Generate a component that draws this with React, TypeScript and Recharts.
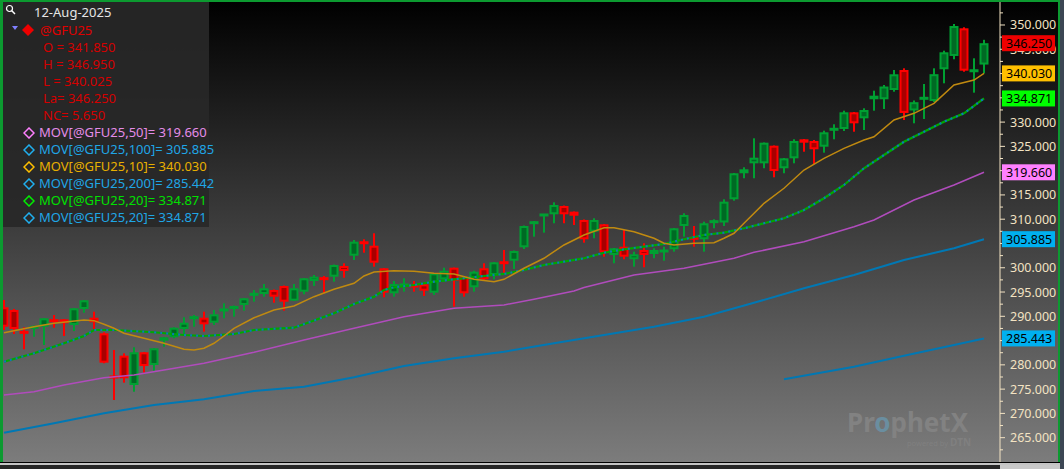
import React from 'react';
import { ComposedChart, Bar, Line, XAxis, YAxis, ReferenceDot } from 'recharts';

// ---- Data (daily bars of @GFU25, last bar 12-Aug-2025) ----
const opens = [291.86,291.30,286.75,287.70,287.86,289.13,289.38,288.21,291.51,289.71,286.50,277.55,281.89,275.85,282.59,279.97,284.98,285.68,287.39,289.68,289.71,288.68,291.27,291.51,292.33,294.50,294.59,295.42,296.24,293.22,295.07,297.27,297.78,298.16,300.36,302.48,305.20,304.54,299.89,294.74,296.42,296.27,296.59,294.86,297.62,300.01,298.16,295.97,299.89,298.51,301.07,301.45,304.21,309.25,310.84,311.01,312.72,311.55,309.84,307.43,308.95,302.63,304.34,301.74,303.66,302.83,303.42,303.80,308.60,306.10,305.86,309.46,309.32,314.10,319.46,321.51,321.51,325.14,320.49,322.54,326.46,326.11,324.93,328.49,328.58,332.02,330.78,334.70,334.70,336.61,340.73,332.39,334.87,334.35,340.88,343.62,349.32,340.55,341.85];
const highs = [293.36,291.51,287.74,288.07,289.65,290.27,289.44,291.71,293.36,290.95,286.71,283.06,282.38,283.62,282.65,283.47,285.74,287.74,289.80,290.27,290.95,291.30,292.68,292.22,293.77,295.42,296.65,295.52,296.34,296.65,297.89,298.51,298.30,300.67,300.92,305.72,305.86,307.10,299.95,297.27,297.83,297.27,296.65,298.92,300.01,300.05,298.20,299.39,300.92,301.18,303.66,303.55,308.70,309.63,311.07,313.48,312.82,311.59,309.94,310.19,309.01,304.07,307.78,303.31,305.04,304.01,304.34,308.19,311.22,308.60,309.49,309.98,314.10,319.52,320.69,326.66,325.80,325.18,322.60,326.46,326.52,326.31,328.23,329.55,332.35,332.08,332.84,336.47,337.64,340.73,341.08,334.45,337.85,341.08,344.71,350.21,349.53,343.14,346.95];
const lows = [287.18,286.36,283.20,285.80,284.09,287.65,285.94,286.97,290.74,287.32,280.32,272.76,276.33,274.47,278.38,278.80,283.74,285.47,286.36,287.86,286.83,288.21,289.59,289.92,291.16,293.01,294.04,292.80,291.16,293.15,294.53,296.24,294.74,297.13,297.95,301.60,303.10,300.22,293.91,294.04,295.07,295.07,294.18,294.39,297.13,291.98,294.04,295.07,297.27,297.62,298.86,299.74,303.86,306.40,307.22,309.16,309.16,308.81,305.16,306.07,302.28,300.92,301.74,300.22,300.09,301.95,301.45,303.31,306.40,304.34,303.31,308.13,308.60,313.81,318.43,318.43,320.49,318.63,319.46,321.51,323.90,321.37,323.70,326.46,328.17,328.02,328.37,332.35,332.70,336.26,330.43,329.75,330.64,334.14,337.99,342.94,340.38,336.06,340.025];
const closes = [287.86,287.39,286.65,287.78,289.59,289.07,288.56,291.65,293.30,288.77,280.45,277.45,277.23,282.59,279.76,283.41,285.68,287.65,288.68,289.75,288.35,290.41,291.33,292.12,293.71,294.56,295.77,294.04,293.01,295.77,297.83,298.16,297.72,300.57,299.33,305.37,305.10,301.04,294.86,296.65,296.48,296.21,295.27,298.86,299.39,297.33,294.74,299.19,297.62,301.12,301.00,303.45,308.60,309.31,310.90,312.93,311.01,310.72,305.86,309.84,303.18,304.01,302.28,302.77,302.63,303.66,303.48,308.13,310.87,306.04,309.16,309.52,313.61,319.46,320.28,322.67,325.76,319.93,322.54,326.11,325.76,324.40,327.90,328.55,332.02,329.75,332.49,335.44,337.33,339.85,331.88,334.10,334.93,339.87,344.38,349.79,340.59,340.60,346.25];

// moving averages: [bar index, value]
const ma10Points: [number, number][] = [[0,286.62],[3,287.86],[5,288.56],[8,289.24],[9,289.10],[10,288.35],[11,287.53],[12,286.50],[14,285.47],[16,284.44],[18,283.20],[19,283.06],[20,283.41],[21,284.44],[22,285.94],[23,287.53],[25,289.70],[27,291.30],[29,292.12],[31,294.04],[33,295.56],[35,296.80],[36,298.30],[37,299.13],[39,299.39],[41,299.27],[43,298.86],[45,298.72],[47,297.62],[49,297.13],[50,297.62],[52,299.89],[54,301.95],[56,304.69],[58,306.75],[60,308.25],[61,308.25],[63,307.43],[65,306.07],[66,305.04],[67,304.69],[69,305.04],[71,305.16],[72,306.07],[73,307.10],[74,309.16],[76,313.27],[78,316.37],[80,320.13],[82,322.54],[84,324.60],[86,326.31],[87,326.99],[89,330.43],[91,331.81],[93,333.87],[95,337.64],[97,338.67],[98,340.03]];
const ma20Points: [number, number][] = [[0,280.65],[3,282.38],[6,284.44],[8,285.94],[9,287.18],[11,287.18],[15,286.71],[18,286.15],[20,285.94],[23,286.36],[25,287.18],[29,287.65],[31,289.13],[33,290.62],[35,292.53],[37,294.04],[38,295.42],[39,295.97],[41,296.45],[43,297.13],[45,297.62],[48,298.30],[50,298.72],[52,299.54],[54,300.57],[56,301.25],[58,301.95],[60,303.10],[62,303.80],[64,304.34],[66,304.89],[68,305.86],[70,306.75],[72,307.22],[74,308.13],[76,309.16],[78,310.19],[80,311.89],[82,314.31],[84,317.05],[86,320.49],[88,323.22],[90,325.96],[92,328.02],[94,330.08],[96,331.81],[98,334.871]];
const ma50Points: [number, number][] = [[0,273.79],[3,274.47],[6,275.85],[10,277.35],[13,277.91],[16,278.94],[20,280.32],[25,282.59],[30,285.12],[35,287.53],[40,289.92],[45,291.65],[50,292.33],[53,293.50],[57,295.21],[58,295.93],[63,298.51],[68,299.89],[73,301.95],[75,303.18],[80,305.37],[85,308.46],[87,309.84],[91,313.96],[95,317.04],[98,319.66]];
const ma100Points: [number, number][] = [[0,266.03],[5,267.96],[10,270.02],[15,271.73],[20,272.91],[25,274.62],[30,275.50],[35,277.44],[40,279.76],[45,281.35],[50,282.71],[55,284.44],[60,286.15],[65,287.86],[70,289.92],[75,292.78],[80,295.77],[85,298.51],[90,301.60],[95,304.00],[98,305.885]];
const ma200Points: [number, number][] = [[78,277.02],[85,279.62],[90,281.88],[95,284.09],[98,285.443]];

const yMajorTicks = [265,270,275,280,285,290,295,300,305,310,315,320,325,330,335,340,345,350];
const yMinorTicks = [262.5,267.5,272.5,277.5,282.5,287.5,292.5,297.5,302.5,307.5,312.5,317.5,322.5,327.5,332.5,337.5,342.5,347.5,352.5];

const lastValues = [
  { value: 346.25, label: '346.250', color: '#ee0000' },
  { value: 340.03, label: '340.030', color: '#ffc000' },
  { value: 334.871, label: '334.871', color: '#00ff00' },
  { value: 319.66, label: '319.660', color: '#ff80ff' },
  { value: 305.885, label: '305.885', color: '#00b0f0' },
  { value: 285.443, label: '285.443', color: '#00b0f0' },
];

const legendRows = [
  { text: 'MOV[@GFU25,50]= 319.660', color: '#e48ce8', mark: '#ff80ff' },
  { text: 'MOV[@GFU25,100]= 305.885', color: '#1fa6e6', mark: '#20b0f0' },
  { text: 'MOV[@GFU25,10]= 340.030', color: '#e8b000', mark: '#ffc000' },
  { text: 'MOV[@GFU25,200]= 285.442', color: '#1fa6e6', mark: '#20b0f0' },
  { text: 'MOV[@GFU25,20]= 334.871', color: '#00e000', mark: '#00f000' },
  { text: 'MOV[@GFU25,20]= 334.871', color: '#1fa6e6', mark: '#20b0f0' },
];
const quoteRows = ['O = 341.850', 'H = 346.950', 'L = 340.025', 'La= 346.250', 'NC= 5.650'];

const toMap = (pts: [number, number][]) => new Map(pts.map(([k, v]) => [k, v]));
const m10 = toMap(ma10Points), m20 = toMap(ma20Points), m50 = toMap(ma50Points), m100 = toMap(ma100Points), m200 = toMap(ma200Points);

const data = opens.map((o, i) => ({
  i,
  open: o,
  high: highs[i],
  low: lows[i],
  close: closes[i],
  ma10: m10.has(i) ? m10.get(i) : null,
  ma20: m20.has(i) ? m20.get(i) : null,
  ma50: m50.has(i) ? m50.get(i) : null,
  ma100: m100.has(i) ? m100.get(i) : null,
  ma200: m200.has(i) ? m200.get(i) : null,
}));

const X_DOMAIN = [-0.4, 99.6];
const Y_DOMAIN = [259.99, 355.149];

const Candle = (props: any) => {
  const { x, y, width, height, payload } = props;
  if (x == null || y == null) return null;
  const top = Math.min(y, y + height);
  const h = Math.abs(height);
  const { open, close, high, low } = payload;
  const ppu = h / (high - low);
  const cx = Math.round(x + width / 2);
  const yO = top + (high - open) * ppu;
  const yC = top + (high - close) * ppu;
  const up = close >= open;
  const outline = up ? '#00a032' : '#ff0000';
  const fill = up ? '#006a24' : '#a80000';
  const bt = Math.min(yO, yC);
  const bb = Math.max(yO, yC);
  const parts: any[] = [];
  parts.push(<rect key="w" x={cx - 1} y={top} width={2} height={h} fill={outline} />);
  if (bb - bt < 3) {
    const mid = (bt + bb) / 2;
    parts.push(<rect key="b" x={cx - 4.5} y={mid - 1.5} width={9} height={3} fill={outline} />);
  } else {
    parts.push(<rect key="b" x={cx - 3.5} y={bt + 1} width={7} height={bb - bt - 2} fill={fill} stroke={outline} strokeWidth={2} />);
  }
  return <g>{parts}</g>;
};

const AXIS_COLOR = '#f3e3c3';
const textFont = "'Noto Sans', sans-serif";

// a tick label that sits entirely under a last-value badge is hidden, as in the original
const coveredByBadge = (v: number) => lastValues.some((b) => Math.abs(b.value - v) < 1.2);

const YTick = (props: any) => {
  const { x, y, payload } = props;
  const v = payload.value;
  const major = Math.abs(v / 5 - Math.round(v / 5)) < 1e-6;
  return (
    <g>
      <line x1={x} x2={x + (major ? 5 : 3)} y1={y} y2={y} stroke={AXIS_COLOR} strokeWidth={1} />
      {major && !coveredByBadge(v) && (
        <text x={x + 10} y={y} dy="0.36em" fill={AXIS_COLOR} fontSize={12.5} fontFamily={textFont} textAnchor="start">
          {v.toFixed(3)}
        </text>
      )}
    </g>
  );
};

const makeBadge = (label: string, color: string) => (props: any) => {
  const { cx, cy } = props;
  if (cx == null || cy == null) return null;
  return (
    <g>
      <rect x={cx + 2} y={cy - 8} width={53} height={16} fill={color} />
      <text x={cx + 6} y={cy} dy="0.36em" fill="#000" fontSize={12.5} fontFamily={textFont}>{label}</text>
    </g>
  );
};

export default function App() {
  return (
    <div style={{ position: 'fixed', left: 0, top: 0, width: 1064, height: 469, background: '#2a2a2a', overflow: 'hidden' }}>
      <div style={{ position: 'absolute', left: 0, top: 0, width: 1060, height: 462, background: 'linear-gradient(#000000, #7c7c7c)' }} />
      {/* watermark */}
      <svg width={1064} height={469} style={{ position: 'absolute', left: 0, top: 0 }}>
        <text x={847} y={432} fontSize={26} fontWeight={700} fontFamily={textFont} fill="#828282">
          Pr<tspan fill="#6a8ea0">o</tspan>phetX
        </text>
        <text x={907} y={446} fontSize={7.5} fontFamily={textFont} fill="#808080">powered by <tspan fontWeight={700} fontSize={10}>DTN</tspan></text>
      </svg>
      <div style={{ position: 'absolute', left: 0, top: 0 }}>
        <ComposedChart width={1064} height={469} data={data} margin={{ top: 0, right: 0, bottom: 7, left: 0 }}>
          <XAxis type="number" dataKey="i" domain={X_DOMAIN} allowDataOverflow hide />
          <YAxis
            orientation="right"
            width={64}
            type="number"
            domain={Y_DOMAIN}
            allowDataOverflow
            ticks={[...yMinorTicks, ...yMajorTicks].sort((a, b) => a - b)}
            interval={0}
            tickLine={false}
            tickSize={0}
            tickMargin={0}
            axisLine={{ stroke: AXIS_COLOR, strokeWidth: 1 }}
            tick={<YTick />}
          />
          <Line dataKey="ma200" stroke="#0078b4" strokeWidth={2} dot={false} activeDot={false} connectNulls isAnimationActive={false} />
          <Line dataKey="ma100" stroke="#0078b4" strokeWidth={2} dot={false} activeDot={false} connectNulls isAnimationActive={false} />
          <Line dataKey="ma50" stroke="#b04cbc" strokeWidth={1.5} dot={false} activeDot={false} connectNulls isAnimationActive={false} />
          <Line dataKey="ma20" stroke="#00a800" strokeWidth={2.2} dot={false} activeDot={false} connectNulls isAnimationActive={false} />
          <Line dataKey="ma20" stroke="#0a78b8" strokeWidth={2.2} strokeDasharray="2 4" dot={false} activeDot={false} connectNulls isAnimationActive={false} />
          <Line dataKey="ma10" stroke="#c08a10" strokeWidth={1.5} dot={false} activeDot={false} connectNulls isAnimationActive={false} />
          <Bar dataKey={(d: any) => [d.low, d.high]} barSize={8} shape={<Candle />} isAnimationActive={false} />
        </ComposedChart>
      </div>
      {/* last-value badges, drawn above the axis labels with the same scales */}
      <div style={{ position: 'absolute', left: 0, top: 0 }}>
        <ComposedChart width={1064} height={469} data={data} margin={{ top: 0, right: 64, bottom: 7, left: 0 }}>
          <XAxis type="number" dataKey="i" domain={X_DOMAIN} allowDataOverflow hide />
          <YAxis type="number" domain={Y_DOMAIN} allowDataOverflow hide />
          {lastValues.map((b) => (
            <ReferenceDot key={b.label + b.color} x={X_DOMAIN[1]} y={b.value} ifOverflow="visible" shape={makeBadge(b.label, b.color)} />
          ))}
        </ComposedChart>
      </div>
      {/* legend box */}
      <div style={{ position: 'absolute', left: 3, top: 2, width: 206, height: 225, background: 'rgba(40,40,40,0.93)', fontFamily: textFont, fontSize: 13, lineHeight: '17px' }}>
        <svg width={12} height={12} style={{ position: 'absolute', left: 2, top: 2 }}>
          <circle cx={4.5} cy={4.5} r={3} fill="none" stroke="#fff" strokeWidth={1.2} />
          <line x1={6.8} y1={6.8} x2={10} y2={10} stroke="#fff" strokeWidth={1.5} />
        </svg>
        <div style={{ position: 'absolute', left: 31, top: 2, color: '#e6e6e6' }}>12-Aug-2025</div>
        <svg width={30} height={14} style={{ position: 'absolute', left: 6, top: 21 }}>
          <polygon points="3,3 9,3 6,7" fill="#8080ff" />
          <polygon points="19,1 25,7 19,13 13,7" fill="#ee0000" />
        </svg>
        <div style={{ position: 'absolute', left: 37, top: 20, color: '#e00000' }}>@GFU25</div>
        {quoteRows.map((t, k) => (
          <div key={t} style={{ position: 'absolute', left: 40, top: 37 + k * 17, color: '#d40000', whiteSpace: 'pre' }}>{t}</div>
        ))}
        {legendRows.map((r, k) => (
          <React.Fragment key={k}>
            <svg width={12} height={12} style={{ position: 'absolute', left: 20, top: 125 + k * 17 }}>
              <polygon points="6,1 11,6 6,11 1,6" fill="none" stroke={r.mark} strokeWidth={1.5} />
            </svg>
            <div style={{ position: 'absolute', left: 36, top: 122 + k * 17, color: r.color, whiteSpace: 'pre' }}>{r.text}</div>
          </React.Fragment>
        ))}
      </div>
      {/* frame */}
      <div style={{ position: 'absolute', left: 0, top: 0, width: 3, height: 462, background: '#0c9a30' }} />
      <div style={{ position: 'absolute', left: 0, top: 0, width: 1060, height: 2, background: '#0c9a30' }} />
      <div style={{ position: 'absolute', left: 1058, top: 0, width: 2, height: 462, background: '#0c9a30' }} />
      <div style={{ position: 'absolute', left: 1060, top: 0, width: 4, height: 469, background: '#3c4654' }} />
      <div style={{ position: 'absolute', left: 0, top: 462, width: 1060, height: 1, background: '#000' }} />
      <div style={{ position: 'absolute', left: 0, top: 463, width: 1060, height: 2, background: '#c4c4c4' }} />
      <div style={{ position: 'absolute', left: 0, top: 465, width: 1000, height: 4, background: '#262626' }} />
      <div style={{ position: 'absolute', left: 1000, top: 465, width: 60, height: 4, background: '#c8c8c8' }} />
    </div>
  );
}
